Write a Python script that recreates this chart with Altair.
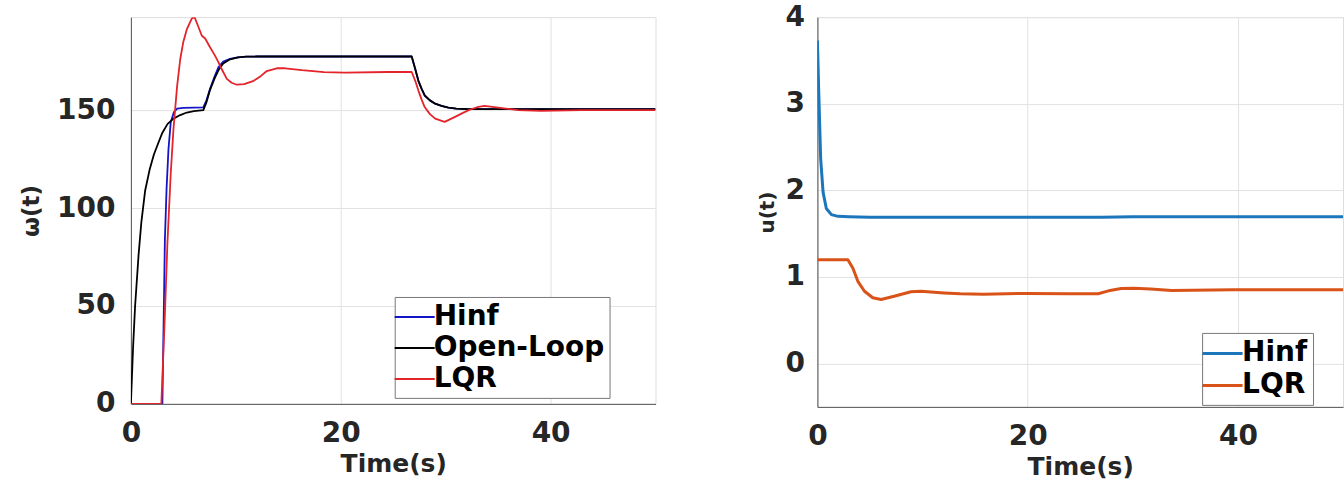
import altair as alt
import pandas as pd

# ---------------- left panel: omega(t) ----------------
hinf_w_t = [0, 3.0, 3.1, 3.24, 3.4, 3.58, 3.8, 4.1, 4.4, 5.0, 6.0, 6.9, 7.2, 7.55, 8.0, 8.35, 8.8, 9.45,
            10.2, 11.0, 12.0, 20.0, 26.76, 27.1, 27.4, 27.7, 28.0, 28.5, 29.0, 29.6, 30.26, 31.0, 32.0,
            35.0, 40.0, 45.0, 50.0]
hinf_w = [0, 0, 35, 84, 110, 130, 144, 149, 150.8, 151.2, 151.3, 151.4, 155, 161, 167.5, 172, 174.8, 176.2,
          177, 177.3, 177.4, 177.4, 177.4, 171, 165, 161, 157.5, 155, 153.3, 152.2, 151.3, 150.8, 150.6,
          150.5, 150.5, 150.5, 150.5]

ol_w_t = [0, 0.2, 0.4, 0.73, 1.0, 1.36, 1.8, 2.2, 2.63, 3.0, 3.5, 4.06, 4.7, 5.33, 6.0, 6.9, 7.2, 7.55,
          8.0, 8.35, 8.8, 9.45, 10.2, 11.0, 12.0, 20.0, 26.76, 27.1, 27.4, 27.7, 28.0, 28.5, 29.0, 29.6,
          30.26, 31.0, 32.0, 35.0, 40.0, 45.0, 50.0]
ol_w = [0, 28, 50, 76, 93, 109, 120, 127.5, 133.5, 138.5, 143, 145.7, 147.5, 148.8, 149.5, 150, 154, 160.5,
        166.5, 170.5, 173.8, 176, 177, 177.3, 177.4, 177.4, 177.4, 171, 165, 161, 157.5, 155, 153.3, 152.2,
        151.3, 150.8, 150.6, 150.5, 150.5, 150.5, 150.5]

lqr_w_t = [0, 2.9, 3.2, 3.48, 3.8, 4.06, 4.4, 4.7, 5.0, 5.33, 5.6, 5.8, 6.07, 6.4, 6.76, 7.08, 7.5, 8.0,
           8.35, 8.7, 9.14, 9.6, 10.1, 10.8, 11.7, 12.4, 12.95, 13.9, 14.7, 16.3, 18.4, 20.4, 24.5, 26.76,
           27.1, 27.4, 27.7, 28.0, 28.5, 29.0, 29.9, 30.9, 31.6, 32.2, 33.0, 33.7, 35.0, 36.9, 39.1, 42.9,
           46.0, 50.0]
lqr_w = [0, 0, 40, 82, 118, 140.6, 162, 176, 185, 191.3, 194.5, 196.8, 197.5, 193, 188, 186.6, 182.5, 178,
         174.4, 170.5, 166, 164, 163, 163.3, 165, 167.5, 170, 171.4, 171.4, 170.4, 169.4, 169.2, 169.5, 169.5,
         165, 160, 155.5, 151.6, 148, 145.7, 144, 146.6, 148.5, 150, 151.5, 152.2, 151.3, 150, 149.6, 150,
         150, 150]

# ---------------- right panel: u(t) ----------------
hinf_u_t = [0, 0.13, 0.31, 0.54, 0.85, 1.33, 1.96, 3.0, 5.0, 10.0, 20.0, 27.0, 30.0, 40.0, 50.0]
hinf_u = [3.73, 3.13, 2.37, 1.98, 1.79, 1.72, 1.70, 1.695, 1.69, 1.69, 1.69, 1.69, 1.695, 1.695, 1.695]

lqr_u_t = [0, 2.9, 3.38, 3.85, 4.48, 5.27, 6.06, 7.3, 8.9, 9.85, 12.05, 13.6, 15.8, 19.8, 24.0, 26.7,
           27.7, 28.9, 30.1, 31.7, 33.7, 35.6, 39.6, 45.0, 50.0]
lqr_u = [1.20, 1.20, 1.10, 0.95, 0.835, 0.76, 0.74, 0.777, 0.83, 0.835, 0.815, 0.805, 0.80, 0.81, 0.805,
         0.806, 0.84, 0.868, 0.87, 0.86, 0.845, 0.848, 0.852, 0.852, 0.852]

left_series = ["Hinf", "Open-Loop", "LQR"]
left_colors = ["#1414c8", "#000000", "#e3242b"]
right_series = ["Hinf", "LQR"]
right_colors = ["#1b76bb", "#d95319"]

x_ticks = [0, 20, 40]
left_y_ticks = [0, 50, 100, 150]
right_y_ticks = [0, 1, 2, 3, 4]

FONT = "DejaVu Sans"
TXT = "#262626"


def frame(t, v, name):
    return pd.DataFrame({"t": t, "v": v, "series": name})


def x_axis():
    return alt.Axis(values=x_ticks, title="Time(s)", labelFont=FONT, labelFontSize=28,
                    labelFontWeight="bold", labelColor=TXT, labelFlush=False, labelPadding=16,
                    ticks=False, tickSize=0, domainColor="#555555", gridColor="#e2e2e2",
                    titleFont=FONT, titleFontSize=25, titleFontWeight="bold", titleColor=TXT,
                    titlePadding=4)


def y_axis(values, title, title_size, extent, tpad, lpad):
    return alt.Axis(values=values, title=title, labelFont=FONT, labelFontSize=28,
                    labelFontWeight="bold", labelColor=TXT, labelFlush=False, labelPadding=lpad,
                    ticks=False, tickSize=0, domainColor="#555555", gridColor="#e2e2e2",
                    titleFont=FONT, titleFontSize=title_size, titleFontWeight="bold", titleColor=TXT,
                    titlePadding=tpad, minExtent=extent, maxExtent=extent)


def legend(lx, ly, sw):
    return alt.Legend(title=None, orient="none", legendX=lx, legendY=ly,
                      symbolType="M-1.43,0H1.43", symbolSize=784, symbolStrokeWidth=sw,
                      labelFont=FONT, labelFontSize=28, labelFontWeight="bold", labelColor="#000000",
                      labelOffset=4, labelLimit=400, strokeColor="#777777", fillColor="white",
                      padding=5, rowPadding=2)


def panel(frames, series, colors, ydom, yax, leg, sw, w, h):
    layers = []
    for f in frames:
        layers.append(
            alt.Chart(f).mark_line(clip=True, strokeWidth=sw, strokeJoin="round").encode(
                x=alt.X("t:Q", scale=alt.Scale(domain=[0, 50], nice=False, zero=False), axis=x_axis()),
                y=alt.Y("v:Q", scale=alt.Scale(domain=ydom, nice=False, zero=False), axis=yax),
                color=alt.Color("series:N", scale=alt.Scale(domain=series, range=colors), legend=leg),
            )
        )
    return alt.layer(*layers).properties(width=w, height=h)


left = panel(
    [frame(hinf_w_t, hinf_w, "Hinf"), frame(ol_w_t, ol_w, "Open-Loop"), frame(lqr_w_t, lqr_w, "LQR")],
    left_series, left_colors, [0, 197.5],
    y_axis(left_y_ticks, "ω(t)", 23, 79, 8, 16),
    legend(264, 280, 2), 1.8, 525, 387,
)

right = panel(
    [frame(hinf_u_t, hinf_u, "Hinf"), frame(lqr_u_t, lqr_u, "LQR")],
    right_series, right_colors, [-0.5, 4],
    y_axis(right_y_ticks, "u(t)", 20, 30, 10, 13),
    legend(385, 316, 3), 3, 526, 390,
)

chart = (
    alt.hconcat(left, right, spacing=162, bounds="flush")
    .resolve_scale(color="independent")
    .resolve_legend(color="independent")
    .properties(padding={"left": 20, "top": 2, "right": 0, "bottom": 0})
    .configure_view(stroke="#a8a8a8", strokeWidth=1)
    .configure(background="white")
)

chart.save("out.html", embed_options={"renderer": "svg", "actions": False})
